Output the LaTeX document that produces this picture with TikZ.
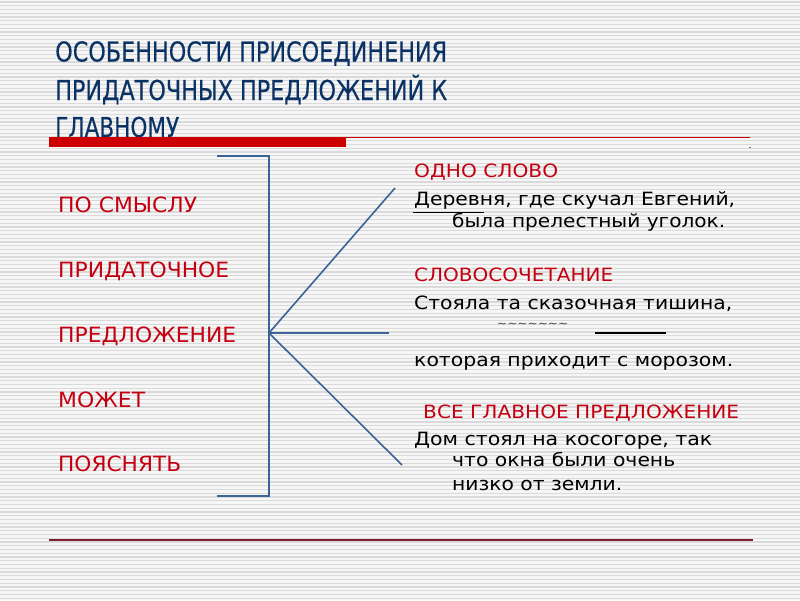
\documentclass[tikz,border=0pt]{standalone}
\usepackage{fontspec}
\setmainfont{DejaVu Sans}
\newfontfamily\titlefont[FakeBold=0.4]{DejaVuSansCondensed.ttf}
\usepackage{graphicx}
\definecolor{titleblue}{RGB}{10,50,100}
\definecolor{labred}{RGB}{196,0,16}
\definecolor{barred}{RGB}{204,0,0}
\definecolor{brblue}{RGB}{59,100,150}
\definecolor{botline}{RGB}{125,30,50}
\definecolor{stripe}{RGB}{218,218,218}
\definecolor{bgc}{RGB}{246,246,246}
\newcommand\fw[2]{\resizebox{#1pt}{\height}{#2}}
\tikzset{
  ttl/.style={anchor=base west, inner sep=0pt, text=titleblue, font=\titlefont\fontsize{27.4}{30}\selectfont},
  lab/.style={anchor=base west, inner sep=0pt, text=labred, font=\fontsize{21}{24}\selectfont},
  rlab/.style={anchor=base west, inner sep=0pt, text=labred, font=\fontsize{18.3}{21}\selectfont},
  ex/.style={anchor=base west, inner sep=0pt, text=black, font=\fontsize{18.3}{21}\selectfont},
  brk/.style={draw=brblue, line width=1.6pt},
}
\begin{document}
\begin{tikzpicture}[x=1pt,y=-1pt]
\useasboundingbox (0,0) rectangle (800,600);
\fill[bgc] (0,0) rectangle (800,600);
\foreach \i in {0,...,159} {
  \draw[stripe, line width=1.2pt] (0,{1.9+3.75*\i}) -- (800,{1.9+3.75*\i});
}
% title
\node[ttl] (t1) at (55,61.5) {\fw{392}{ОСОБЕННОСТИ ПРИСОЕДИНЕНИЯ}};
\node[ttl] (t2) at (55,100) {\fw{392}{ПРИДАТОЧНЫХ ПРЕДЛОЖЕНИЙ К}};
\node[ttl] (t3) at (55,137) {\fw{124}{ГЛАВНОМУ}};
% red bar
\fill[barred] (49,136.7) rectangle (346,146.7);
\draw[barred, line width=1pt] (346,137.2) -- (750,137.2);
\fill[black] (750,147.5) circle (0.6);
% bottom line
\draw[botline, line width=1.4pt] (49,540) -- (753,540);
% left labels
\node[lab] (l1) at (58,212) {\fw{139}{ПО СМЫСЛУ}};
\node[lab] (l2) at (58,277) {\fw{171}{ПРИДАТОЧНОЕ}};
\node[lab] (l3) at (58,342) {\fw{178}{ПРЕДЛОЖЕНИЕ}};
\node[lab] (l4) at (58,407) {\fw{87}{МОЖЕТ}};
\node[lab] (l5) at (58,471) {\fw{123}{ПОЯСНЯТЬ}};
% bracket and fan
\coordinate (bt) at (217,156);
\coordinate (bb) at (217,496);
\coordinate (hub) at (269,333);
\coordinate (f1) at (395,188);
\coordinate (f2) at (389,333);
\coordinate (f3) at (402,465);
\draw[brk] (bt) -- (269,156) -- (269,496) -- (bb);
\draw[brk] (hub) -- (f1);
\draw[brk] (hub) -- (f2);
\draw[brk] (hub) -- (f3);
% right side
\node[rlab] (r1) at (414,177) {\fw{144}{ОДНО СЛОВО}};
\node[ex] (e1) at (414,205) {\fw{321}{Деревня, где скучал Евгений,}};
\node[ex] (e2) at (452,227) {\fw{273}{была прелестный уголок.}};
\draw[black, line width=1.4pt] (413,212.5) -- (484,212.5);
\node[rlab] (r2) at (414,281) {\fw{199}{СЛОВОСОЧЕТАНИЕ}};
\node[ex] (e3) at (414,309.3) {\fw{318}{Стояла та сказочная тишина,}};
\node[anchor=base west, inner sep=0pt, text=black!75, font=\fontsize{11}{12}\selectfont] (tl) at (497,327) {\fw{71}{\~{}\~{}\~{}\~{}\~{}\~{}\~{}}};
\draw[black, line width=1.6pt] (595,333) -- (666,333);
\node[ex] (e4) at (414,366) {\fw{319}{которая приходит с морозом.}};
\node[rlab] (r3) at (423,418.3) {\fw{316}{ВСЕ ГЛАВНОЕ ПРЕДЛОЖЕНИЕ}};
\node[ex] (e5) at (414,445) {\fw{298}{Дом стоял на косогоре, так}};
\node[ex] (e6) at (452,466.7) {\fw{223}{что окна были очень}};
\node[ex] (e7) at (452,490) {\fw{170}{низко от земли.}};
\end{tikzpicture}
\end{document}
